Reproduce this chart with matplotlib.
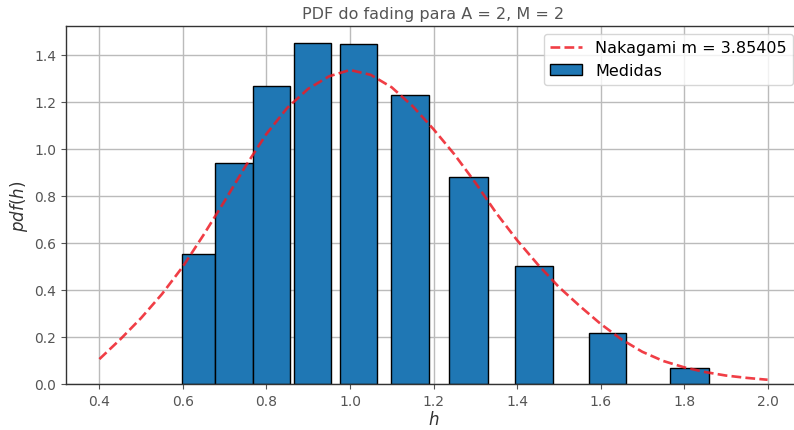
import numpy as np
import matplotlib
matplotlib.use('Agg')
from matplotlib import pyplot

#------------------------------------------------------------------------------
# Measured fading histogram (bin edges and normalised heights)
#------------------------------------------------------------------------------
bin_lo = [0.597, 0.676, 0.767, 0.865, 0.975, 1.098, 1.238, 1.396, 1.573, 1.767]
bin_hi = [0.676, 0.767, 0.856, 0.954, 1.064, 1.190, 1.330, 1.487, 1.662, 1.860]
pdf_med = [0.553, 0.939, 1.267, 1.451, 1.447, 1.230, 0.880, 0.503, 0.217, 0.067]

#------------------------------------------------------------------------------
# Fitted Nakagami curve
#------------------------------------------------------------------------------
m_fit = 3.85405
h = [0.40, 0.45, 0.50, 0.55, 0.60, 0.65, 0.70, 0.75, 0.80, 0.85, 0.90,
     0.95, 1.00, 1.05, 1.10, 1.15, 1.20, 1.25, 1.30, 1.35, 1.40, 1.45,
     1.50, 1.55, 1.60, 1.65, 1.70, 1.75, 1.80, 1.85, 1.90, 1.95, 2.00]
pdf_nak = [0.106, 0.190, 0.281, 0.383, 0.500, 0.636, 0.779, 0.927, 1.064,
           1.175, 1.256, 1.309, 1.336, 1.315, 1.262, 1.182, 1.084, 0.977,
           0.857, 0.728, 0.612, 0.508, 0.413, 0.332, 0.256, 0.190, 0.137,
           0.098, 0.071, 0.051, 0.036, 0.026, 0.018]

grey = '#555555'

fig = pyplot.figure(figsize=(7.94, 4.31), dpi=100)
ax = fig.add_axes([66/794, 46/431, 735/794, 358/431])

lo = np.array(bin_lo)
hi = np.array(bin_hi)
ax.bar(lo, pdf_med, width=hi-lo, align='edge', color='#1f77b4',
       edgecolor='black', linewidth=1.0, label='Medidas', zorder=2)
ax.plot(h, pdf_nak, '--', color='#ee1c25', alpha=0.85, linewidth=1.9,
        label='Nakagami m = ' + str(m_fit), zorder=3)

ax.set_xlim(0.32, 2.08)
ax.set_ylim(0, 1.523)
ax.set_xticks(np.arange(0.4, 2.01, 0.2))
ax.set_yticks(np.arange(0.0, 1.41, 0.2))
ax.grid(True, color='#bbbbbb', linewidth=1.0, zorder=0)
ax.set_axisbelow(True)
ax.tick_params(direction='out', length=3.5, width=0.8, colors=grey,
               labelsize=10, labelcolor=grey)
for s in ['left', 'top', 'bottom']:
    ax.spines[s].set_color('#333333')
    ax.spines[s].set_linewidth(1.0)
ax.spines['right'].set_visible(False)

ax.set_title('PDF do fading para A = 2, M = 2', fontsize=11.5, color=grey, pad=6)
ax.set_xlabel('$h$', fontsize=12, color='#333333', labelpad=2)
ax.set_ylabel('$pdf(h)$', fontsize=12, color='#333333', labelpad=3)

leg = ax.legend(loc='upper right', fontsize=11.5, framealpha=0.8,
                edgecolor='#cccccc', handlelength=2.0)

pyplot.savefig('out.png', dpi=100)
